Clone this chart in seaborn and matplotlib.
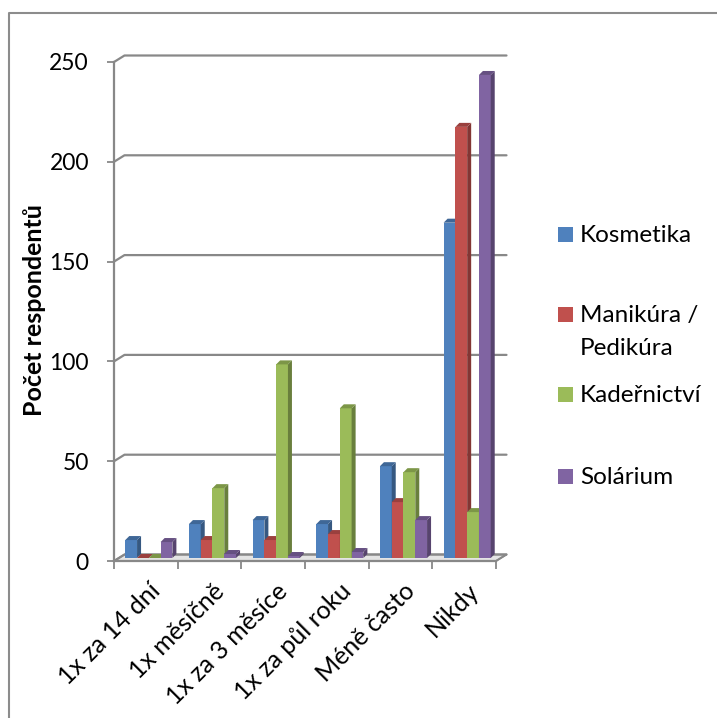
import matplotlib
matplotlib.use("Agg")
import matplotlib.pyplot as plt
import matplotlib.transforms as mtransforms
from matplotlib.colors import to_rgb
from matplotlib.lines import Line2D
from matplotlib.patches import Polygon, Rectangle
import numpy as np
import pandas as pd
import seaborn as sns

# ---- data ----
categories = ["1x za 14 dní", "1x měsíčně", "1x za 3 měsíce", "1x za půl roku", "Méně často", "Nikdy"]
kosmetika = [9, 17, 19, 17, 46, 168]
manikura_pedikura = [0, 9, 9, 12, 28, 216]
kadernictvi = [0, 35, 97, 75, 43, 23]
solarium = [8, 2, 1, 3, 19, 242]
series_names = ["Kosmetika", "Manikúra / Pedikúra", "Kadeřnictví", "Solárium"]
y_ticks = [0, 50, 100, 150, 200, 250]
y_label = "Počet respondentů"

colors = ["#4F81BD", "#C0504D", "#9BBB59", "#8064A2"]
GRID = "#888888"

series_values = [kosmetika, manikura_pedikura, kadernictvi, solarium]
df = pd.DataFrame(
    [(c, name, v) for name, vals in zip(series_names, series_values) for c, v in zip(categories, vals)],
    columns=["kategorie", "sluzba", "pocet"],
)

sns.set_theme(style="white")
plt.rcParams["font.family"] = ["Lato", "DejaVu Sans"]

W, H = 717, 718
fig = plt.figure(figsize=(W / 100, H / 100), dpi=100)

# plot box in pixels (front plane)
X0, X1, Y0, Y1 = 114, 496, 561, 62
ax = fig.add_axes([X0 / W, 1 - Y0 / H, (X1 - X0) / W, (Y0 - Y1) / H])
ax.patch.set_alpha(0)

sns.barplot(
    data=df, x="kategorie", y="pocet", hue="sluzba",
    order=categories, hue_order=series_names, palette=colors,
    width=0.74, saturation=1, errorbar=None, legend=False, ax=ax,
)
ax.set_xlim(-0.5, len(categories) - 0.5)
ax.set_ylim(0, 250)
ax.set_xlabel("")
ax.set_ylabel("")

px_x = (X1 - X0) / len(categories)   # pixels per category unit
px_y = (Y0 - Y1) / 250.0             # pixels per value unit

# depth of the back wall and of the bars
wall_dx, wall_dy = 10.5 / px_x, 6.5 / px_y
bar_dx, bar_dy = 4.0 / px_x, 4.0 / px_y
bar_shift_x, bar_lift = 3.0 / px_x, 1.5

# floor
floor = Polygon(
    [(-0.5, 0), (5.5, 0), (5.5 + wall_dx, wall_dy), (-0.5 + wall_dx, wall_dy)],
    closed=True, facecolor="#e4e4e4", edgecolor=GRID, lw=1.3, zorder=1, clip_on=False,
)
ax.add_patch(floor)

# back-wall gridlines with their slanted connectors
for v in y_ticks:
    ax.add_line(Line2D([-0.5, -0.5 + wall_dx, 5.5 + wall_dx], [v, v + wall_dy, v + wall_dy],
                       color=GRID, lw=1.6, zorder=1.5, clip_on=False))

# 3D faces for each bar
def shade(c, f):
    r, g, b = to_rgb(c)
    return (r * f, g * f, b * f)

bars = [p for p in ax.patches if isinstance(p, Rectangle)]
for p in bars:
    p.set_x(p.get_x() + bar_shift_x)
    p.set_y(bar_lift)
    x, w, h = p.get_x(), p.get_width(), p.get_height()
    y = p.get_y()
    col = p.get_facecolor()
    z = 3 + x
    p.set_zorder(z)
    p.set_edgecolor("none")
    p.set_clip_on(False)
    side = Polygon([(x + w, y), (x + w + bar_dx, y + bar_dy), (x + w + bar_dx, y + h + bar_dy), (x + w, y + h)],
                   closed=True, facecolor=shade(col, 0.68), edgecolor="none", zorder=z, clip_on=False)
    top = Polygon([(x, y + h), (x + bar_dx, y + h + bar_dy), (x + w + bar_dx, y + h + bar_dy), (x + w, y + h)],
                  closed=True, facecolor=shade(col, 0.8), edgecolor="none", zorder=z, clip_on=False)
    ax.add_patch(side)
    ax.add_patch(top)

# axis lines
for s in ["top", "right"]:
    ax.spines[s].set_visible(False)
for s in ["left", "bottom"]:
    ax.spines[s].set_color(GRID)
    ax.spines[s].set_linewidth(1.6)
    ax.spines[s].set_zorder(2)

ax.set_yticks(y_ticks)
ax.set_yticklabels([str(v) for v in y_ticks])
ax.tick_params(axis="y", direction="out", length=5.0, width=1.3, color=GRID,
               pad=13, labelsize=16.5, labelcolor="black", left=True)

ax.set_xticks(np.arange(-0.5, len(categories)), minor=True)
ax.set_xticks(np.arange(len(categories)))
ax.tick_params(axis="x", which="minor", direction="out", length=5.5, width=1.3, color=GRID, bottom=True)
ax.tick_params(axis="x", which="major", length=0, pad=19, labelsize=18, labelcolor="black")
ax.set_xticklabels(categories, rotation=45, ha="right", va="center", rotation_mode="anchor")
offset = mtransforms.ScaledTranslation(11 / 100, 0, fig.dpi_scale_trans)
for lab in ax.get_xticklabels():
    lab.set_transform(lab.get_transform() + offset)

ax.add_line(Line2D([5.5, 5.5 + wall_dx], [0, wall_dy], color=GRID, lw=1.3, zorder=2, clip_on=False))

# y-axis title
fig.text(35 / W, 1 - 310 / H, y_label, rotation=90, ha="center", va="center",
         fontsize=18, fontweight="bold", color="black")

# legend
legend_rows = [
    (["Kosmetika"], 242),
    (["Manikúra /", "Pedikúra"], 322),
    (["Kadeřnictví"], 402),
    (["Solárium"], 484),
]
for (lines, base), col in zip(legend_rows, colors):
    fig.patches.append(Rectangle((558 / W, 1 - (base - 0.5) / H), 15 / W, 15 / H,
                                 transform=fig.transFigure, facecolor=col, edgecolor="none"))
    for i, t in enumerate(lines):
        fig.text(580 / W, 1 - (base + 33 * i) / H, t, ha="left", va="baseline",
                 fontsize=17.5, color="black")

# chart frame
fig.add_artist(Line2D([9 / W, 9 / W, 1], [0, 1 - 13 / H, 1 - 13 / H],
                      transform=fig.transFigure, color="#8c8c8c", lw=1.5))

fig.savefig("out.png", dpi=100, facecolor="white")
